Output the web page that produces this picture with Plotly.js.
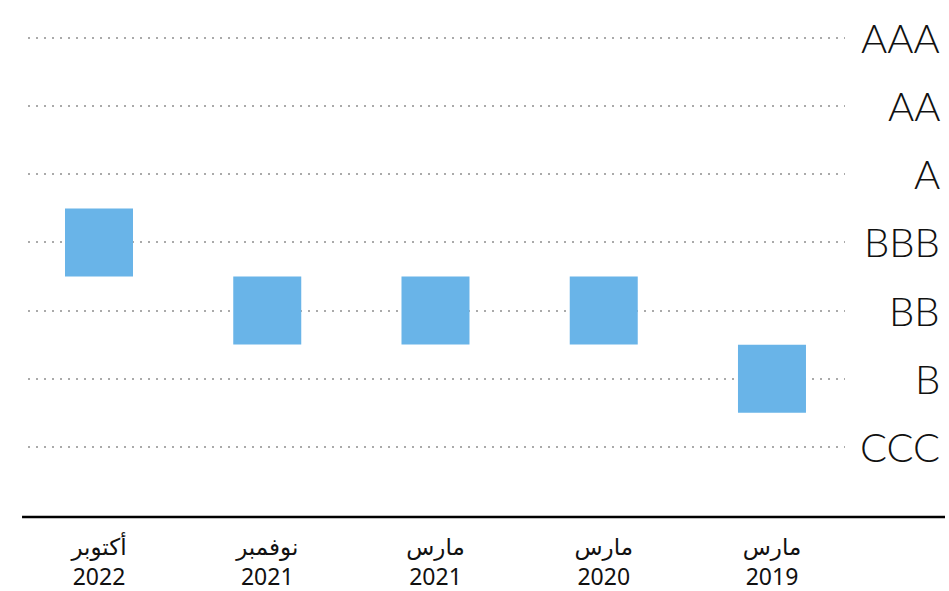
<!DOCTYPE html>
<html><head><meta charset="utf-8">
<script src="https://cdn.plot.ly/plotly-3.0.1.min.js"></script>
<style>html,body{margin:0;padding:0;background:#fff}</style>
</head><body>
<div id="chart" style="width:949px;height:591px"></div>
<script>
const months = ["أكتوبر", "نوفمبر", "مارس", "مارس", "مارس"];
const years = ["2022", "2021", "2021", "2020", "2019"];
const ratingScale = ["CCC", "B", "BB", "BBB", "A", "AA", "AAA"];
const ratings = ["BBB", "BB", "BB", "BB", "B"];

const xLabels = months.map((m, i) => m + "<br>" + years[i]);
const xIdx = xLabels.map((_, i) => i);
const yVals = ratings.map(r => ratingScale.indexOf(r));

const trace = {
  type: "scatter", mode: "markers",
  x: xIdx, y: yVals,
  marker: {symbol: "square", size: 68, color: "#69b4e8", line: {width: 0}},
  hoverinfo: "skip", cliponaxis: false
};

const annotations = ratingScale.map((r, i) => ({
  xref: "paper", yref: "y", x: 1, xshift: 97, y: i,
  xanchor: "right", yanchor: "middle", showarrow: false,
  text: r, font: {family: "Lato, 'Open Sans', sans-serif", size: 40, weight: 300, color: "#111"}
}));

const layout = {
  width: 949, height: 591,
  margin: {l: 28, r: 104, t: 12, b: 74},
  paper_bgcolor: "#fff", plot_bgcolor: "#fff",
  showlegend: false,
  xaxis: {
    range: [-0.422, 4.434], tickvals: xIdx, ticktext: xLabels,
    showgrid: false, zeroline: false, showline: false, ticks: "",
    tickfont: {family: "'Noto Sans', 'DejaVu Sans', sans-serif", size: 23, color: "#111"},
    ticklabelstandoff: 14, fixedrange: true
  },
  yaxis: {
    range: [-1.027, 6.38], tickvals: ratingScale.map((_, i) => i),
    showticklabels: false, showgrid: true, gridcolor: "#aaaaaa", gridwidth: 2,
    griddash: "2px,6px", zeroline: false, showline: false, ticks: "", fixedrange: true
  },
  shapes: [{
    type: "line", xref: "paper", yref: "paper",
    x0: -0.0073, x1: 1.1224, y0: 0, y1: 0,
    line: {color: "#000", width: 2.5}
  }],
  annotations: annotations
};

Plotly.newPlot("chart", [trace], layout, {displayModeBar: false, staticPlot: true});
</script>
</body></html>
